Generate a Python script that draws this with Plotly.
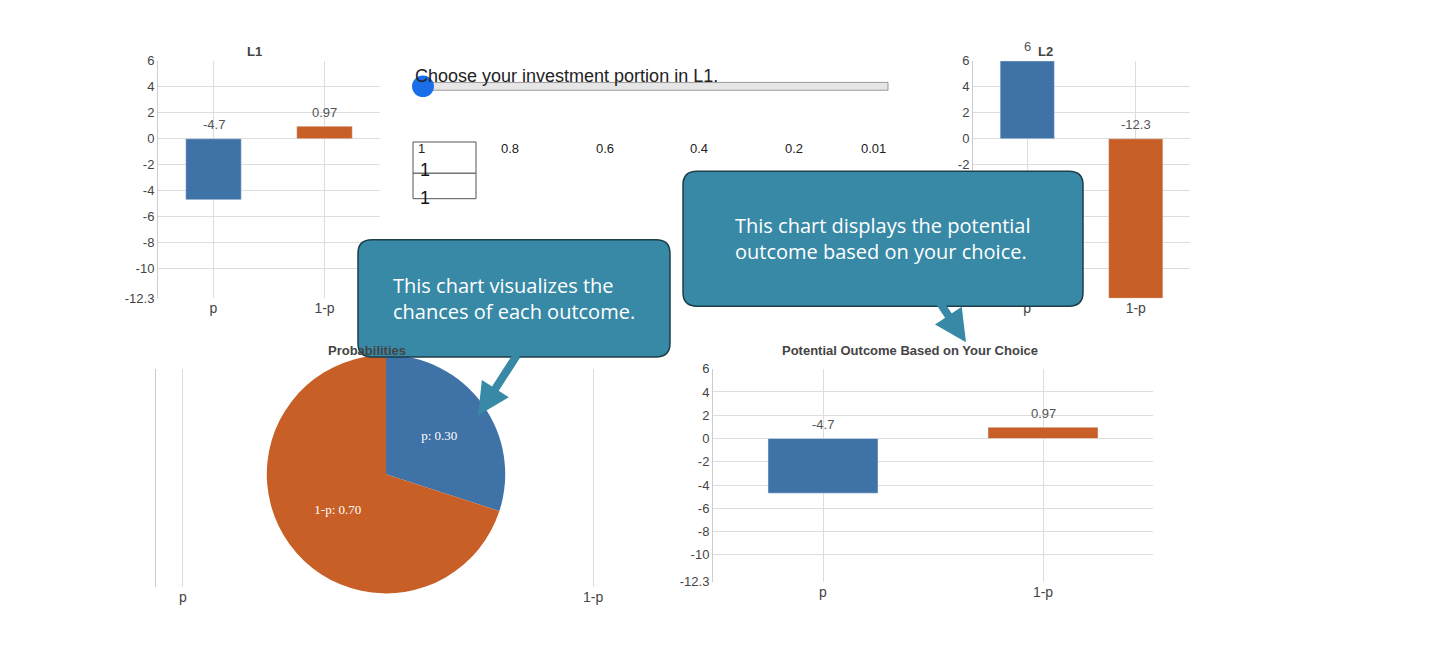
import plotly.graph_objects as go

W, H = 1436, 653
BLUE, ORANGE = "#3f72a6", "#c75f26"
TEAL = "#3789a6"

cats = ["p", "1-p"]
l1_vals = [-4.7, 0.97]
l2_vals = [6, -12.3]
outcome_vals = [-4.7, 0.97]
probs = [0.30, 0.70]
y_ticks = [6, 4, 2, 0, -2, -4, -6, -8, -10, -12.3]
slider_labels = ["1", "0.8", "0.6", "0.4", "0.2", "0.01"]


def px(x):
    return x / W


def py(y):
    return 1 - y / H


fig = go.Figure()

axes = {
    "1": dict(x=(150, 372), y=(47, 290)),
    "2": dict(x=(965, 1182), y=(47, 290)),
    "3": dict(x=(705, 1145), y=(362, 580)),
    "4": dict(x=(148, 612), y=(362, 585)),
}

for key, vals in (("1", l1_vals), ("2", l2_vals), ("3", outcome_vals)):
    fig.add_trace(go.Bar(x=cats, y=vals, marker_color=[BLUE, ORANGE], width=0.5,
                         xaxis="x" + key, yaxis="y" + key, showlegend=False))
    for c, v in zip(cats, vals):
        fig.add_annotation(x=c, y=max(v, 0), xref="x" + key, yref="y" + key,
                           text=f"{v:g}", showarrow=False, yshift=14,
                           font=dict(size=13, color="#555"))

# empty frame behind the pie
fig.add_trace(go.Scatter(x=cats, y=[None, None], xaxis="x4", yaxis="y4", showlegend=False))

fig.add_trace(go.Pie(labels=cats, values=probs, sort=False, direction="clockwise", rotation=0,
                     marker=dict(colors=[BLUE, ORANGE]), textinfo="text",
                     text=[f"{c}: {p:.2f}" for c, p in zip(cats, probs)],
                     textfont=dict(color="white", size=13, family="Arial Black"),
                     insidetextorientation="horizontal", showlegend=False,
                     domain=dict(x=[px(256), px(500)], y=[py(592), py(348)])))

layout = dict(width=W, height=H, margin=dict(l=0, r=0, t=0, b=0),
              plot_bgcolor="white", paper_bgcolor="white",
              font=dict(family="Arial", size=13, color="#444"), bargap=0.5)
for key, a in axes.items():
    layout["xaxis" + key] = dict(domain=[px(a["x"][0]), px(a["x"][1])], anchor="y" + key,
                                 showgrid=True, gridcolor="#ddd", showline=False,
                                 tickfont=dict(size=14), fixedrange=True)
    layout["yaxis" + key] = dict(domain=[py(a["y"][1]), py(a["y"][0])], anchor="x" + key,
                                 range=[-12.3, 6], tickvals=y_ticks, ticktext=[f"{t:g}" for t in y_ticks],
                                 showgrid=True, gridcolor="#ddd", zeroline=False,
                                 showline=True, linecolor="#ccc", ticks="", fixedrange=True)
layout["yaxis4"].update(showticklabels=False, showgrid=False)
fig.update_layout(**layout)

titles = [("L1", 237, 28), ("L2", 1047, 28),
          ("Potential Outcome Based on Your Choice", 902, 343), ("Probabilities", 318, 343)]
for t, x, y in titles:
    fig.add_annotation(x=px(x), y=py(y), xref="paper", yref="paper", text=f"<b>{t}</b>",
                       showarrow=False, font=dict(size=13, color="#444"))

# slider widget
fig.add_annotation(x=px(405), y=py(50), xref="paper", yref="paper", xanchor="left",
                   text="Choose your investment portion in L1.", showarrow=False,
                   font=dict(size=18, color="#222"))
fig.add_shape(type="rect", x0=px(410), x1=px(880), y0=py(77), y1=py(69), xref="paper", yref="paper",
              line=dict(color="#999", width=1), fillcolor="#e6e6e6")
fig.add_shape(type="circle", x0=px(405), x1=px(425), y0=py(83), y1=py(63), xref="paper", yref="paper",
              fillcolor="#1a6ee8", line=dict(color="#1a6ee8"))
for i, lab in enumerate(slider_labels):
    x = 408 + i * (880 - 408) / (len(slider_labels) - 1)
    fig.add_annotation(x=px(x), y=py(127), xref="paper", yref="paper", text=lab,
                       showarrow=False, font=dict(size=13, color="#222"),
                       xanchor="left" if i == 0 else ("right" if i == 5 else "center"))
for y0, y1 in ((130, 162), (162, 188)):
    fig.add_shape(type="rect", x0=px(405), x1=px(468), y0=py(y1), y1=py(y0), xref="paper", yref="paper",
                  line=dict(color="#555", width=1), fillcolor="white")
    fig.add_annotation(x=px(410), y=py((y0 + y1) / 2), xref="paper", yref="paper", xanchor="left",
                       text="1", showarrow=False, font=dict(size=18, color="#111"))


def callout(x0, y0, x1, y1, text, tx, ty, ax, ay):
    r = 14
    X, Y = px, py
    path = (f"M {X(x0 + r)},{Y(y0)} L {X(x1 - r)},{Y(y0)} Q {X(x1)},{Y(y0)} {X(x1)},{Y(y0 + r)} "
            f"L {X(x1)},{Y(y1 - r)} Q {X(x1)},{Y(y1)} {X(x1 - r)},{Y(y1)} L {X(x0 + r)},{Y(y1)} "
            f"Q {X(x0)},{Y(y1)} {X(x0)},{Y(y1 - r)} L {X(x0)},{Y(y0 + r)} Q {X(x0)},{Y(y0)} {X(x0 + r)},{Y(y0)} Z")
    fig.add_shape(type="path", path=path, xref="paper", yref="paper", layer="above",
                  fillcolor=TEAL, line=dict(color="#1d3e4a", width=1.5))
    fig.add_annotation(x=px((x0 + x1) / 2), y=py((y0 + y1) / 2), xref="paper", yref="paper",
                       text=text, showarrow=False, align="left",
                       font=dict(size=20, color="white", family="Open Sans"))
    fig.add_annotation(x=px(tx), y=py(ty), ax=ax - tx, ay=ay - ty, xref="paper", yref="paper",
                       text="", showarrow=True, arrowhead=2,
                       arrowsize=0.8, arrowwidth=8, arrowcolor=TEAL)


callout(350, 230, 662, 350, "This chart visualizes the<br>chances of each outcome.", 470, 410, 510, 348)
callout(675, 160, 1075, 298, "This chart displays the potential<br>outcome based on your choice.",
        958, 335, 925, 285)

fig.write_html("out.html")
